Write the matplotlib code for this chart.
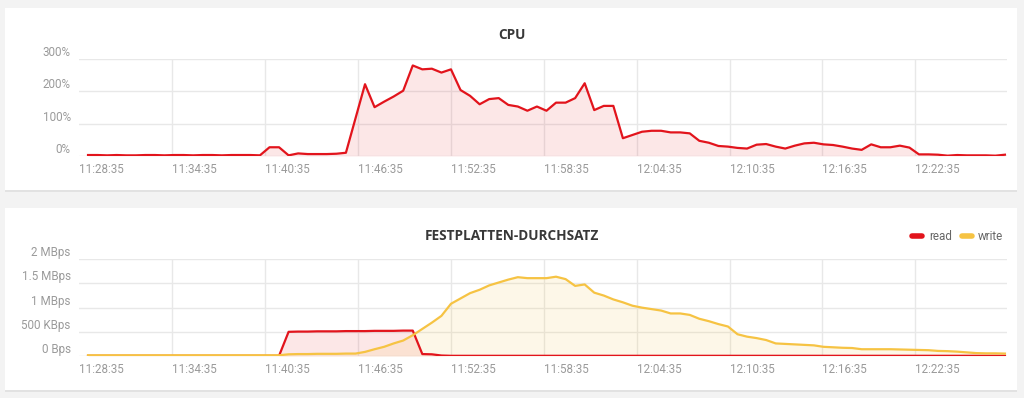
import pandas as pd
import matplotlib
matplotlib.use('Agg')
import matplotlib.pyplot as plt
import matplotlib.dates as mdates
from matplotlib.patches import Rectangle
from matplotlib.lines import Line2D

# samples every 37 s, starting 11:29:10
start = '2020-01-01 11:29:10'
n_samples = 97
step = '37s'

cpu = [3, 3, 2, 3, 2, 2, 3, 3, 2, 3, 3, 2, 3, 3, 2, 3, 3, 3,
       2, 27, 27, 2, 8, 6, 6, 6, 7, 10, 116, 222, 151, 168, 184, 202, 280,
       268, 270, 258, 268, 204, 186, 160, 176, 179, 158, 153, 140, 153, 140,
       165, 165, 179, 225, 142, 155, 155, 55, 65, 75, 78, 78, 73, 73, 70,
       47, 41, 31, 29, 25, 23, 35, 37, 29, 23, 32, 39, 41, 36, 34, 29, 23,
       19, 36, 27, 27, 32, 26, 5, 5, 4, 1, 3, 2, 2, 2, 1, 4]

# MBps
disk_read = [0.004] * 21 + [0.50, 0.505, 0.505, 0.51, 0.51, 0.51, 0.515, 0.515,
             0.515, 0.52, 0.52, 0.52, 0.525, 0.525, 0.04, 0.035, 0.01] + [0.004] * 59

disk_write = [0.015] * 21 + [0.035, 0.04, 0.04, 0.045, 0.045, 0.045, 0.05, 0.05,
              0.085, 0.14, 0.19, 0.26, 0.32, 0.43, 0.56, 0.69, 0.83, 1.08, 1.19,
              1.30, 1.37, 1.46, 1.52, 1.58, 1.63, 1.61, 1.61, 1.61, 1.64, 1.59,
              1.45, 1.48, 1.31, 1.25,
              1.17, 1.11, 1.04, 1.00, 0.97, 0.94, 0.88, 0.88, 0.85, 0.77, 0.72,
              0.66, 0.61, 0.45, 0.40, 0.37, 0.33, 0.26, 0.25, 0.24, 0.23, 0.22,
              0.19, 0.18, 0.17, 0.165, 0.14, 0.14, 0.14, 0.14, 0.135, 0.13, 0.125,
              0.12, 0.105, 0.10, 0.09, 0.075, 0.06, 0.055, 0.055, 0.05]

x_ticks = pd.date_range('2020-01-01 11:28:35', periods=10, freq='6min')
x_min = pd.Timestamp('2020-01-01 11:28:35')
x_max = pd.Timestamp('2020-01-01 12:28:30')

cpu_ticks = [0, 100, 200, 300]
cpu_labels = ['0%', '100%', '200%', '300%']
disk_ticks = [0, 0.5, 1, 1.5, 2]
disk_labels = ['0 Bps', '500 KBps', '1 MBps', '1.5 MBps', '2 MBps']

times = pd.date_range(start, periods=n_samples, freq=step)

RED = '#e2141c'
YELLOW = '#f6c343'
TICK_COLOR = '#9a9a9a'
GRID_COLOR = '#e8e8e8'

W, H = 1024, 398
fig = plt.figure(figsize=(W / 100, H / 100), dpi=100)
fig.patch.set_facecolor('#f3f3f3')


def px(x, y):
    return x / W, 1 - y / H


# white cards with a faint shadow
for top, bottom in [(8, 190), (208, 390)]:
    x0, y0 = px(5, bottom + 1.5)
    fig.add_artist(Rectangle((x0, y0), 1012 / W, (bottom - top) / H,
                             transform=fig.transFigure, facecolor='#e2e2e2',
                             edgecolor='none', zorder=0))
    x0, y0 = px(5, bottom)
    fig.add_artist(Rectangle((x0, y0), 1012 / W, (bottom - top) / H,
                             transform=fig.transFigure, facecolor='white',
                             edgecolor='none', zorder=0))


def setup_axes(ax, yticks, ylabels, ymax):
    ax.set_facecolor('none')
    ax.set_xlim(x_min, x_max)
    ax.set_ylim(0, ymax)
    ax.set_xticks(x_ticks)
    ax.xaxis.set_major_formatter(mdates.DateFormatter('%H:%M:%S'))
    ax.set_yticks(yticks)
    ax.set_yticklabels(ylabels)
    for s in ax.spines.values():
        s.set_visible(False)
    ax.tick_params(axis='both', length=0, colors=TICK_COLOR, labelsize=8.4)
    ax.tick_params(axis='x', pad=5)
    ax.tick_params(axis='y', pad=6)
    for lbl in ax.get_xticklabels():
        lbl.set_ha('left')
        lbl.set_fontfamily('Roboto')
    for lbl in ax.get_yticklabels():
        lbl.set_va('bottom')
        lbl.set_fontfamily('Roboto')
    ax.grid(True, color=GRID_COLOR, linewidth=1)
    ax.get_xgridlines()[0].set_visible(False)
    ax.set_axisbelow(True)


# CPU
l, b = px(79, 156)
ax1 = fig.add_axes([l, b, 928 / W, 97 / H])
ax1.fill_between(times, cpu, 0, color=RED, alpha=0.1, linewidth=0)
ax1.plot(times, cpu, color=RED, linewidth=1.6)
setup_axes(ax1, cpu_ticks, cpu_labels, 300)
fig.text(*px(512, 35), 'CPU', ha='center', va='center', fontsize=9.8,
         fontweight='bold', color='#383838', family='Open Sans')

# Disk throughput
l, b = px(79, 356)
ax2 = fig.add_axes([l, b, 928 / W, 96.7 / H])
ax2.fill_between(times, disk_read, 0, color=RED, alpha=0.1, linewidth=0)
ax2.fill_between(times, disk_write, 0, color=YELLOW, alpha=0.12, linewidth=0)
ax2.plot(times, disk_read, color=RED, linewidth=1.6)
ax2.plot(times, disk_write, color=YELLOW, linewidth=1.6)
setup_axes(ax2, disk_ticks, disk_labels, 2)
fig.text(*px(512, 236), 'FESTPLATTEN-DURCHSATZ', ha='center', va='center',
         fontsize=9.8, fontweight='bold', color='#383838', family='Open Sans')

# legend
for (x0, x1, tx, label, color) in [(912, 922, 929, 'read', RED),
                                   (962, 972, 978, 'write', YELLOW)]:
    (fx0, fy), (fx1, _) = px(x0, 236), px(x1, 236)
    fig.add_artist(Line2D([fx0, fx1], [fy, fy], transform=fig.transFigure,
                          color=color, linewidth=4, solid_capstyle='round'))
    fig.text(*px(tx, 236), label, ha='left', va='center', fontsize=8.4,
             color='#666666', family='Roboto')

plt.savefig('out.png', dpi=100, facecolor=fig.get_facecolor())
